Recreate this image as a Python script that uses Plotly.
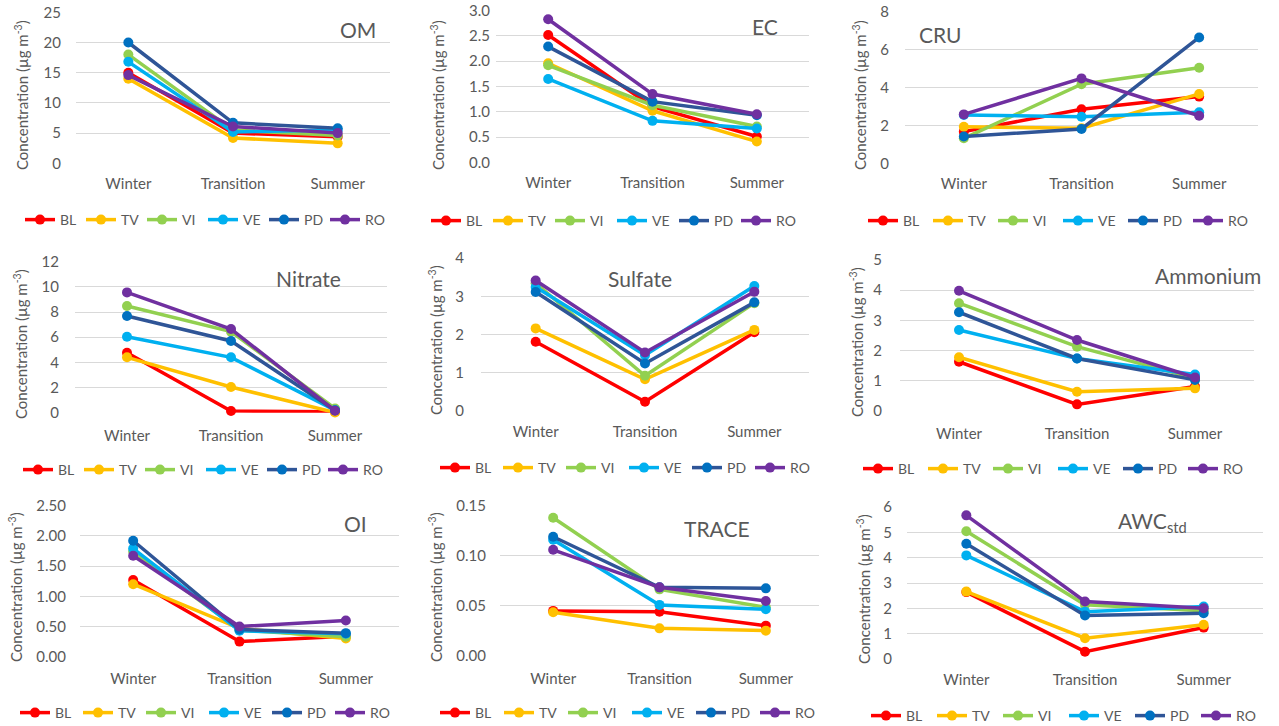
import plotly.graph_objects as go

# Canvas
W, H = 1279, 726

seasons = ["Winter", "Transition", "Summer"]
sites = ["BL", "TV", "VI", "VE", "PD", "RO"]
line_colors = ["#FF0000", "#FFC000", "#92D050", "#00B0F0", "#2F5597", "#7030A0"]
marker_colors = ["#FF0000", "#FFC000", "#92D050", "#00B0F0", "#0070C0", "#7030A0"]

# Seasonal mean concentrations (µg m-3); one row per site, columns = Winter, Transition, Summer
om = [[15.0, 5.0, 4.4], [14.0, 4.2, 3.3], [18.0, 5.5, 4.6],
      [16.8, 5.2, 5.5], [20.0, 6.7, 5.8], [14.6, 6.1, 5.0]]
ec = [[2.52, 1.10, 0.51], [1.96, 1.02, 0.41], [1.92, 1.13, 0.71],
      [1.65, 0.82, 0.67], [2.29, 1.20, 0.93], [2.83, 1.35, 0.95]]
cru = [[1.67, 2.85, 3.52], [1.93, 1.85, 3.66], [1.32, 4.17, 5.04],
       [2.55, 2.46, 2.69], [1.41, 1.81, 6.64], [2.58, 4.48, 2.51]]
nitrate = [[4.77, 0.13, 0.08], [4.40, 2.04, 0.02], [8.48, 6.44, 0.34],
           [6.04, 4.40, 0.20], [7.68, 5.70, 0.20], [9.56, 6.65, 0.16]]
sulfate = [[1.81, 0.24, 2.06], [2.16, 0.83, 2.12], [3.34, 0.92, 2.82],
           [3.24, 1.46, 3.27], [3.11, 1.24, 2.84], [3.41, 1.53, 3.12]]
ammonium = [[1.63, 0.22, 0.81], [1.78, 0.64, 0.75], [3.57, 2.13, 1.08],
            [2.68, 1.74, 1.21], [3.27, 1.74, 1.03], [3.98, 2.35, 1.11]]
oi = [[1.27, 0.25, 0.34], [1.20, 0.47, 0.30], [1.74, 0.44, 0.33],
      [1.79, 0.43, 0.38], [1.92, 0.45, 0.39], [1.67, 0.50, 0.60]]
trace = [[0.045, 0.0442, 0.0303], [0.0436, 0.0276, 0.0253], [0.138, 0.0665, 0.0486],
         [0.116, 0.051, 0.0466], [0.119, 0.0685, 0.0675], [0.106, 0.0685, 0.0549]]
awc = [[2.64, 0.29, 1.24], [2.66, 0.82, 1.35], [5.04, 2.14, 1.90],
       [4.09, 1.87, 2.07], [4.55, 1.72, 1.81], [5.67, 2.27, 2.00]]

panel_titles = ["OM", "EC", "CRU", "Nitrate", "Sulfate", "Ammonium",
                "OI", "TRACE", "AWC<sub>std</sub>"]
panel_data = [om, ec, cru, nitrate, sulfate, ammonium, oi, trace, awc]
y_max = [25, 3.0, 8, 12, 4, 5, 2.5, 0.15, 6]
y_step = [5, 0.5, 2, 2, 1, 1, 0.5, 0.05, 1]
y_fmt = ["d", ".1f", "d", "d", "d", "d", ".2f", ".2f", "d"]

# Panel geometry in pixels: plot box (left, right, top, bottom),
# y-title x/centre, panel-title centre, legend left / centre-y, label gaps
boxes = [(76, 390, 12.3, 163.3), (496, 809, 10.7, 162.3), (905, 1258, 11.7, 163.3),
         (75, 387, 261.7, 412.7), (481, 809, 258, 411), (900, 1254, 260, 411),
         (80, 399, 505.7, 656.7), (500, 819, 505.7, 656), (907, 1263, 507, 659)]
ytitle_pos = [(21, 95), (437, 95), (859, 95), (20, 344), (435, 340), (856, 342),
              (15, 587), (435, 587), (863, 589)]
title_pos = [(358, 29), (765, 26), (940, 34), (308, 278), (640, 279), (1208, 275),
             (355, 523), (717, 528), (1152, 522)]
legend_pos = [(20, 220), (426, 221), (863, 221), (18, 470), (435, 468), (858, 469),
              (15, 713), (435, 713), (866, 716)]
legend_entry = [16, 17, 20, 16, 18, 20, 18, 19, 21]
ylabel_gap = [14, 5, 15, 15, 16, 17, 13, 13, 14]
xlabel_gap = [10, 10, 10, 12, 10, 12, 11, 12, 10]

FONT = "Lato, Open Sans, sans-serif"
GREY = "#595959"


def fx(p):
    return p / W


def fy(p):
    return 1 - p / H


fig = go.Figure()
layout = dict(
    width=W, height=H,
    margin=dict(l=0, r=0, t=0, b=0, autoexpand=False),
    paper_bgcolor="white", plot_bgcolor="white",
    font=dict(family=FONT, color=GREY, size=15),
    showlegend=True,
    annotations=[],
)

for k in range(9):
    sfx = "" if k == 0 else str(k + 1)
    leg = "legend" if k == 0 else "legend" + str(k + 1)
    for s, site in enumerate(sites):
        fig.add_trace(go.Scatter(
            x=seasons, y=panel_data[k][s], name=site,
            mode="lines+markers",
            line=dict(color=line_colors[s], width=3.5),
            marker=dict(color=marker_colors[s], size=10),
            xaxis="x" + sfx, yaxis="y" + sfx,
            legend=leg, cliponaxis=False,
        ))
    l, r, t, b = boxes[k]
    layout["xaxis" + sfx] = dict(
        domain=[fx(l), fx(r)], anchor="y" + sfx,
        type="category", range=[-0.5, 2.5],
        showgrid=False, zeroline=False, showline=False, ticks="",
        ticklabelstandoff=xlabel_gap[k],
        tickfont=dict(size=15, color=GREY, family=FONT),
        fixedrange=True, automargin=False,
    )
    layout["yaxis" + sfx] = dict(
        domain=[fy(b), fy(t)], anchor="x" + sfx,
        range=[0, y_max[k]], tickmode="linear", tick0=0, dtick=y_step[k],
        tickformat=y_fmt[k],
        showgrid=True, gridcolor="#D9D9D9", gridwidth=1,
        zeroline=False, showline=False, ticks="",
        ticklabelstandoff=ylabel_gap[k],
        tickfont=dict(size=15, color=GREY, family=FONT),
        fixedrange=True, automargin=False,
    )
    lx, ly = legend_pos[k]
    layout[leg] = dict(
        orientation="h", x=fx(lx), xanchor="left", y=fy(ly), yanchor="middle",
        bgcolor="rgba(0,0,0,0)", borderwidth=0,
        font=dict(size=14, color=GREY, family=FONT),
        itemwidth=30, entrywidth=legend_entry[k], entrywidthmode="pixels",
        itemclick=False, itemdoubleclick=False,
    )
    tx, ty = ytitle_pos[k]
    layout["annotations"].append(dict(
        text="Concentration (µg m<sup>-3</sup>)", textangle=-90,
        x=fx(tx), y=fy(ty), xref="paper", yref="paper",
        xanchor="center", yanchor="middle", showarrow=False,
        font=dict(size=15, color=GREY, family=FONT),
    ))
    px_, py_ = title_pos[k]
    layout["annotations"].append(dict(
        text=panel_titles[k], x=fx(px_), y=fy(py_), xref="paper", yref="paper",
        xanchor="center", yanchor="middle", showarrow=False,
        font=dict(size=21, color=GREY, family=FONT),
    ))

fig.update_layout(**layout)
fig.write_html("out.html")
